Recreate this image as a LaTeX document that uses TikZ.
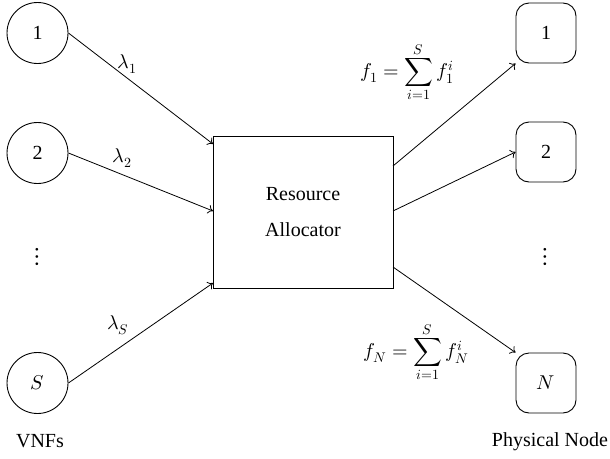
\documentclass[tikz,border=0pt]{standalone}
\usepackage{fontspec}
\usepackage{unicode-math}
\setmainfont{Liberation Serif}
\usetikzlibrary{arrows.meta}
\begin{document}
\begin{tikzpicture}[x=1pt,y=-1pt,
  every node/.style={font=\fontsize{20}{24}\selectfont},
  vnf/.style={draw, circle, line width=0.9pt, minimum size=61pt, inner sep=0pt},
  phys/.style={draw, rounded corners=13pt, line width=0.9pt, minimum size=60pt, inner sep=0pt},
  alloc/.style={draw, line width=0.9pt, minimum width=180pt, minimum height=152pt, align=center},
  conn/.style={line width=0.8pt, -{To[length=5pt,width=9pt]}},
  dots/.style={font=\fontsize{26}{30}\selectfont, inner sep=0pt},
  lbl/.style={inner sep=0pt}]
\useasboundingbox (0,0) rectangle (610,458);
\node[vnf] (v1) at (37.5,33) {1};
\node[vnf] (v2) at (37.5,153) {2};
\node[dots] (vd) at (37.5,257) {$\vdots$};
\node[vnf] (vs) at (37.5,383) {$S$};
\node (vnfs) at (40,441) {VNFs};

\node[alloc] (ra) at (303,212) {Resource\\[12pt]Allocator};

\node[phys] (p1) at (546,33) {1};
\node[phys] (p2) at (546,152) {2};
\node[dots] (pd) at (545,257) {$\vdots$};
\node[phys] (pn) at (546,383) {$N$};
\node (pnl) at (550,442) {Physical Node};

\coordinate (a1) at (213,144);
\coordinate (a2) at (213,211);
\coordinate (as) at (213,283);
\coordinate (b1) at (393,166);
\coordinate (b2) at (393,211);
\coordinate (bn) at (393,267);

\draw[conn] (v1.east) -- (a1);
\draw[conn] (v2.east) -- (a2);
\draw[conn] (vs.east) -- (as);
\draw[conn] (b1) -- (p1.south west);
\draw[conn] (b2) -- (p2.west);
\draw[conn] (bn) -- (pn.north west);

\node[lbl] (l1) at (127,64) {$\lambda_1$};
\node[lbl] (l2) at (122,158) {$\lambda_2$};
\node[lbl] (ls) at (118,325) {$\lambda_S$};
\node[lbl] (f1) at (407,72) {$\displaystyle f_1=\sum_{i=1}^{S} f_1^i$};
\node[lbl] (fn) at (416,352) {$\displaystyle f_N=\sum_{i=1}^{S} f_N^i$};
\end{tikzpicture}
\end{document}
